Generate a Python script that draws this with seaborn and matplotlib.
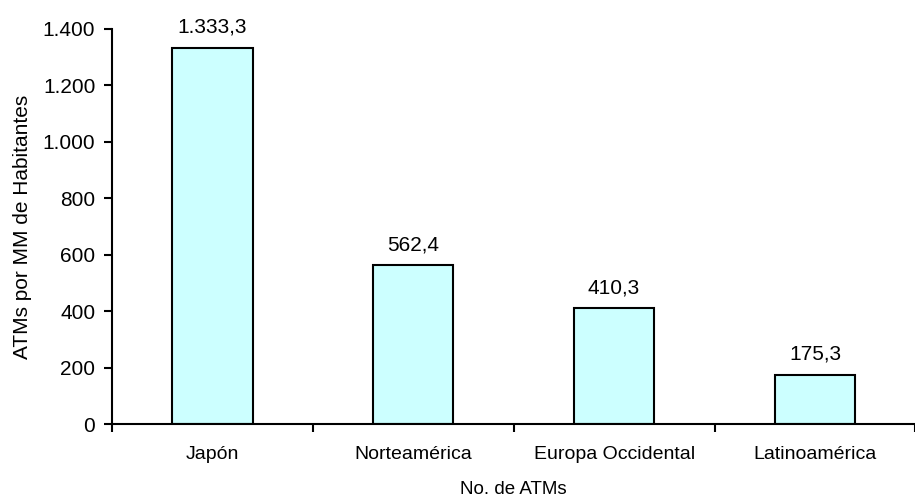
import matplotlib
matplotlib.use("Agg")
import matplotlib.pyplot as plt
import seaborn as sns
import pandas as pd
from matplotlib.ticker import FuncFormatter, FixedLocator

categories = ["Japón", "Norteamérica", "Europa Occidental", "Latinoamérica"]
values = [1333.3, 562.4, 410.3, 175.3]
value_labels = ["1.333,3", "562,4", "410,3", "175,3"]
y_ticks = [0, 200, 400, 600, 800, 1000, 1200, 1400]

sns.set_theme(style="white")
plt.rcParams['font.family'] = ['Liberation Sans', 'DejaVu Sans']

df = pd.DataFrame({"region": categories, "atms": values})

fig = plt.figure(figsize=(9.15, 4.99), dpi=100)
ax = fig.add_axes([0.1224, 0.150, 0.878, 0.792])

sns.barplot(data=df, x="region", y="atms", ax=ax, color="#CCFFFF",
            edgecolor="black", linewidth=1.5, width=0.4, saturation=1)

ax.set_xlim(-0.5, 3.5)
ax.set_ylim(0, 1400)
ax.yaxis.set_major_locator(FixedLocator(y_ticks))
ax.yaxis.set_major_formatter(FuncFormatter(lambda v, p: f"{int(v):,}".replace(",", ".")))

for i, (v, lab) in enumerate(zip(values, value_labels)):
    ax.annotate(lab, (i, v), xytext=(0, 8), textcoords="offset points",
                ha="center", va="bottom", fontsize=15, color="black")

for s in ["top", "right"]:
    ax.spines[s].set_visible(False)
for s in ["left", "bottom"]:
    ax.spines[s].set_color("black")
    ax.spines[s].set_linewidth(1.5)

ax.tick_params(axis="y", which="major", direction="out", length=6, width=1.5,
               color="black", labelsize=15, labelcolor="black", left=True, pad=6)
ax.tick_params(axis="x", which="major", length=0, labelsize=14, labelcolor="black", pad=16)
ax.xaxis.set_minor_locator(FixedLocator([-0.5, 0.5, 1.5, 2.5, 3.5]))
ax.tick_params(axis="x", which="minor", direction="out", length=6, width=1.5,
               color="black", bottom=True)

ax.set_xlabel("No. de ATMs", fontsize=13.5, color="black", labelpad=13)
ax.set_ylabel("ATMs por MM de Habitantes", fontsize=15, color="black", labelpad=8)

fig.savefig("out.png", dpi=100)
